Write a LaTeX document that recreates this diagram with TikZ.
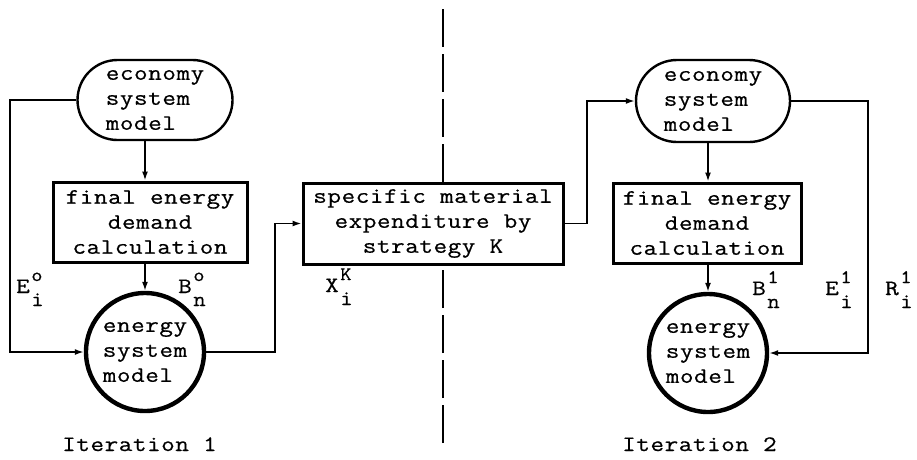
\documentclass[tikz,border=0pt]{standalone}
\usepackage{fontspec}
\usetikzlibrary{arrows.meta}
\newfontfamily\tw[FakeStretch=1.2,LetterSpace=2.5,FakeBold=0.6]{Latin Modern Mono}
\newfontfamily\twidx[FakeStretch=1.15,FakeBold=0.6]{Latin Modern Mono}
% letter with superscript and subscript stacked after it
\newcommand\supsub[3]{#1\kern1.5pt\rlap{\raisebox{12pt}{\twidx\fontsize{19}{19}\selectfont #2}}\raisebox{-13pt}{\twidx\fontsize{21}{21}\selectfont #3}}
\tikzset{
  txt/.style={font=\tw\fontsize{22}{25}\selectfont, inner sep=0pt},
  econ/.style={txt, draw, line width=2.4pt, rounded corners=40pt, fill=white,
               minimum width=155pt, minimum height=80pt, align=left},
  calc/.style={txt, draw, line width=3pt, fill=white,
               minimum height=80pt, align=center},
  esys/.style={txt, draw, circle, line width=4.4pt, fill=white,
               minimum size=118pt, align=left},
  flow/.style={line width=1.6pt, -{Latex[length=9pt,width=6pt]}},
  divider/.style={line width=1.4pt, dash pattern=on 38pt off 7pt},
  lbl/.style={txt, anchor=base west},
}
\begin{document}
\begin{tikzpicture}[x=1pt,y=-1pt]
\useasboundingbox (0,0) rectangle (917,459);

% strategy block (placed first so the separator can refer to it)
\node[calc, minimum width=260pt, minimum height=81pt] (spec) at (433,223.5)
  {specific material\\expenditure by\\strategy K};

% separator between the two iterations, broken by the strategy block
\coordinate (dtop) at (443,9);
\coordinate (dbot) at (443,443);
\draw[divider] (dtop) -- (dtop |- spec.north);
\draw[divider] (dbot) -- (dbot |- spec.south);

% iteration 1
\node[econ] (eco1) at (155,100) {economy\\system\\model};
\node[calc, minimum width=194pt] (fin1) at (150,222) {final energy\\demand\\calculation};
\node[esys] (esm1) at (145,352) {energy\\system\\model};

% iteration 2
\node[econ, minimum width=154pt, minimum height=82pt, rounded corners=41pt] (eco2) at (713,101) {economy\\system\\model};
\node[calc, minimum width=188pt] (fin2) at (707,223) {final energy\\demand\\calculation};
\node[esys] (esm2) at (708,353) {energy\\system\\model};

% routing columns
\coordinate (c1) at (10,0);
\coordinate (c2) at (275,0);
\coordinate (c3) at (587,0);
\coordinate (c4) at (868,0);

% connectors
\draw[flow] (eco1.south -| esm1.north) -- (fin1.north -| esm1.north);
\draw[flow] (fin1.south -| esm1.north) -- (esm1.north);
\draw[flow] (eco1.west) -| (c1 |- esm1.west) -- (esm1.west);
\draw[flow] (esm1.east) -| (c2 |- spec.west) -- (spec.west);
\draw[flow] (spec.east) -| (c3 |- eco2.west) -- (eco2.west);
\draw[flow] (eco2.south -| esm2.north) -- (fin2.north -| esm2.north);
\draw[flow] (fin2.south -| esm2.north) -- (esm2.north);
\draw[flow] (eco2.east) -| (c4 |- esm2.east) -- (esm2.east);

% flow labels
\node[lbl] (le0) at (16,293) {\supsub{E}{o}{i}};
\node[lbl] (lb0) at (178,293) {\supsub{B}{o}{n}};
\node[lbl] (lx) at (325,292) {\supsub{X}{K}{i}};
\node[lbl] (lb1) at (752,295) {\supsub{B}{1}{n}};
\node[lbl] (le1) at (825,295) {\supsub{E}{1}{i}};
\node[lbl] (lr1) at (885,295) {\supsub{R}{1}{i}};

% captions
\node[lbl] (it1) at (62,451) {Iteration 1};
\node[lbl] (it2) at (622,451) {Iteration 2};
\end{tikzpicture}
\end{document}
